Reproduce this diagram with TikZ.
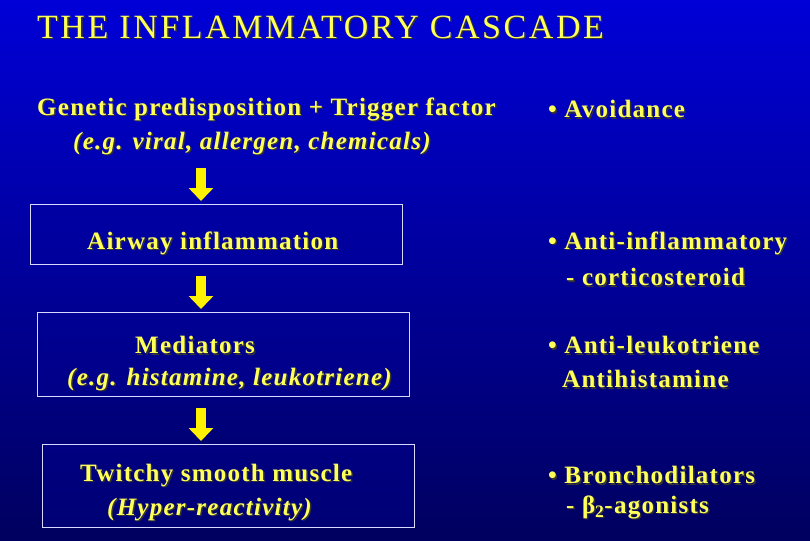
\documentclass[tikz,border=0pt]{standalone}
\usepackage{fontspec}
\setmainfont{Liberation Serif}[LetterSpace=5]
\newfontfamily\titlefont{Liberation Serif}[LetterSpace=7.5]
\usetikzlibrary{arrows.meta}
\definecolor{txt}{RGB}{255,255,90}
\newcommand\shd[1]{\rlap{\color{black!80}\kern1.5pt\raisebox{-1.5pt}{#1}}#1}
\begin{document}
\begin{tikzpicture}[x=1pt,y=-1pt,
  lbl/.style={anchor=west,inner sep=0pt,text=txt,font=\bfseries\fontsize{25}{28}\selectfont},
  ilbl/.style={lbl,font=\bfseries\itshape\fontsize{25}{28}\selectfont},
  box/.style={draw=white!85!blue,line width=0.8pt,fill=blue!60!black,fill opacity=0.35},
  arr/.style={yellow,line width=10pt,-{Triangle[width=24pt,length=13pt]},shorten >=0pt}]
\shade[top color={rgb,255:red,0;green,0;blue,215},bottom color={rgb,255:red,0;green,0;blue,95}] (0,0) rectangle (810,540);
\useasboundingbox (0,0) rectangle (810,540);
\node[anchor=west,inner sep=0pt,text=txt,font=\titlefont\fontsize{34}{38}\selectfont] (title) at (37,28) {\shd{THE INFLAMMATORY CASCADE}};
\node[lbl] (g1) at (37,110) {\shd{Genetic predisposition + Trigger factor}};
\node[ilbl] (g2) at (73,144) {\shd{(e.g. viral, allergen, chemicals)}};
\node[lbl] (r1) at (548,110) {\shd{• Avoidance}};
\draw[box] (30,204) rectangle (402,264);
\node[lbl] (a1) at (87,244) {\shd{Airway inflammation}};
\node[lbl] (r2) at (548,244) {\shd{• Anti-inflammatory}};
\node[lbl] (r2b) at (566,278) {\shd{- corticosteroid}};
\draw[box] (37,312) rectangle (409,396);
\node[lbl] (m1) at (135,346) {\shd{Mediators}};
\node[ilbl] (m2) at (67,380) {\shd{(e.g. histamine, leukotriene)}};
\node[lbl] (r3) at (548,346) {\shd{• Anti-leukotriene}};
\node[lbl] (r3b) at (562,380) {\shd{Antihistamine}};
\draw[box] (42,444) rectangle (414,527);
\node[lbl] (t1) at (80,476) {\shd{Twitchy smooth muscle}};
\node[ilbl] (t2) at (107,510) {\shd{(Hyper-reactivity)}};
\node[lbl] (r4) at (548,476) {\shd{• Bronchodilators}};
\node[lbl] (r4b) at (566,508) {\shd{- β\textsubscript{2}-agonists}};
\coordinate (s1) at (201,168); \coordinate (e1) at (201,201);
\coordinate (s2) at (201,276); \coordinate (e2) at (201,309);
\coordinate (s3) at (201,408); \coordinate (e3) at (201,441);
\draw[arr] (s1) -- (e1);
\draw[arr] (s2) -- (e2);
\draw[arr] (s3) -- (e3);
\end{tikzpicture}
\end{document}
